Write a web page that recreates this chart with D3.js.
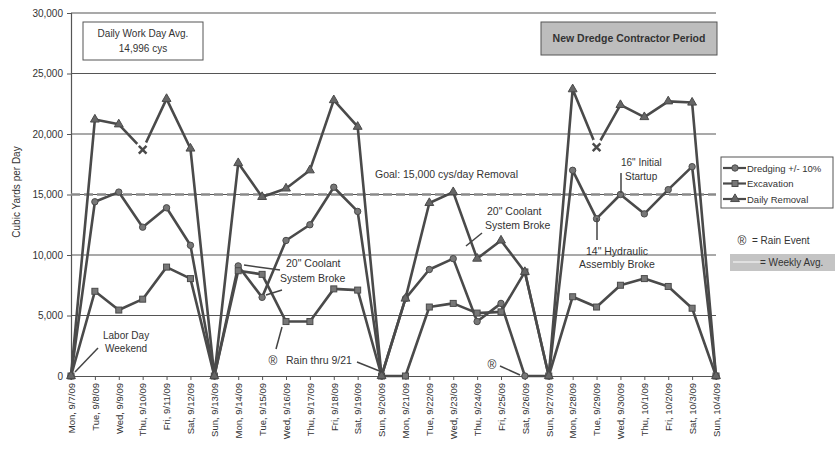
<!DOCTYPE html>
<html><head><meta charset="utf-8">
<script src="https://cdn.jsdelivr.net/npm/d3@7"></script>
<style>
body{margin:0;background:#fff;}
text{font-family:"Liberation Sans",Arial,sans-serif;fill:#333;}
</style></head>
<body>
<svg id="c" width="835" height="452"></svg>
<script>
const dates = ["Mon, 9/7/09","Tue, 9/8/09","Wed, 9/9/09","Thu, 9/10/09","Fri, 9/11/09","Sat, 9/12/09","Sun, 9/13/09","Mon, 9/14/09","Tue, 9/15/09","Wed, 9/16/09","Thu, 9/17/09","Fri, 9/18/09","Sat, 9/19/09","Sun, 9/20/09","Mon, 9/21/09","Tue, 9/22/09","Wed, 9/23/09","Thu, 9/24/09","Fri, 9/25/09","Sat, 9/26/09","Sun, 9/27/09","Mon, 9/28/09","Tue, 9/29/09","Wed, 9/30/09","Thu, 10/1/09","Fri, 10/2/09","Sat, 10/3/09","Sun, 10/4/09"];
const dredging   = [0,14400,15200,12300,13900,10800,0, 9100,6500,11200,12500,15600,13600,0, 6400,8800,9700,4500,6000,0,   0,17000,13000,15000,13400,15400,17300,0];
const excavation = [0, 7000, 5450, 6350, 9000, 8050,0, 8700,8400, 4500, 4500, 7200, 7100,0,    0,5700,6000,5200,5300,8600,0, 6550, 5700, 7500, 8050, 7400, 5600,0];
const daily      = [0,21200,20800,18700,22900,18800,0,17600,14800,15500,17000,22800,20600,0, 6400,14300,15200,9700,11200,8600,0,23700,18900,22400,21400,22700,22600,0];
const crossDays = ["Thu, 9/10/09","Tue, 9/29/09"];
const goal = 15000;
const yTicks = [0,5000,10000,15000,20000,25000,30000];
const seriesNames = ["Dredging +/- 10%","Excavation","Daily Removal"];

const svg = d3.select("#c");
const L=71, R=716, T=13, B=376;
const x = d3.scalePoint().domain(dates).range([L,R]);
const y = d3.scaleLinear().domain([0,30000]).range([B,T]);
const ink = "#4a4a4a";

// gridlines
svg.append("g").selectAll("line").data(yTicks.filter(d=>d>0)).join("line")
  .attr("x1",L).attr("x2",R).attr("y1",d=>y(d)).attr("y2",d=>y(d))
  .attr("stroke","#555").attr("stroke-width",1.2);

// y axis
const ya = svg.append("g").attr("transform",`translate(${L},0)`)
  .call(d3.axisLeft(y).tickValues(yTicks).tickFormat(d3.format(",")).tickSize(4));
ya.select(".domain").attr("stroke","#555").attr("stroke-width",1.2);
ya.selectAll(".tick line").attr("stroke","#555");
ya.selectAll("text").attr("font-size",10).attr("fill","#333").attr("x",-8);

// x axis
const xa = svg.append("g").attr("transform",`translate(0,${B})`)
  .call(d3.axisBottom(x).tickSize(4));
xa.select(".domain").attr("stroke","#555").attr("stroke-width",1.2);
xa.selectAll(".tick line").attr("stroke","#555");
xa.selectAll("text").attr("font-size",9.5).attr("fill","#333")
  .attr("transform","rotate(-90)").attr("text-anchor","end")
  .attr("x",-7).attr("y",0).attr("dy","0.35em");

// goal / weekly avg dashed line
svg.append("line").attr("x1",L).attr("x2",R).attr("y1",y(goal)).attr("y2",y(goal))
  .attr("stroke","#8a8a8a").attr("stroke-width",2.5).attr("stroke-dasharray","9,4");

// series lines
const line = d3.line().x((d,i)=>x(dates[i])).y(d=>y(d));
const allSeries = [dredging, excavation, daily];
allSeries.forEach(s=>{
  svg.append("path").datum(s).attr("d",line).attr("fill","none")
    .attr("stroke",ink).attr("stroke-width",2.6).attr("stroke-linejoin","round");
});

function marker(g, kind, cx, cy){
  if(kind===0){
    g.append("circle").attr("cx",cx).attr("cy",cy).attr("r",3.2).attr("fill","#777").attr("stroke",ink).attr("stroke-width",1);
  } else if(kind===1){
    g.append("rect").attr("x",cx-3).attr("y",cy-3).attr("width",6).attr("height",6).attr("fill","#777").attr("stroke",ink).attr("stroke-width",1);
  } else if(kind===2){
    g.append("path").attr("d",d3.symbol(d3.symbolTriangle,34)()).attr("transform",`translate(${cx},${cy})`).attr("fill","#666").attr("stroke",ink).attr("stroke-width",1);
  } else {
    g.append("circle").attr("cx",cx).attr("cy",cy).attr("r",8).attr("fill","#fff");
    g.append("path").attr("d",d3.symbol(d3.symbolX,40)()).attr("transform",`translate(${cx},${cy})`).attr("fill","none").attr("stroke",ink).attr("stroke-width",2.5);
  }
}
const mg = svg.append("g");
allSeries.forEach((s,k)=>{
  s.forEach((v,i)=>{
    const kind = (k===2 && crossDays.includes(dates[i])) ? 3 : k;
    marker(mg, kind, x(dates[i]), y(v));
  });
});

// annotations
const ann = svg.append("g");
ann.append("rect").attr("x",83).attr("y",22).attr("width",120).attr("height",38).attr("fill","#fff").attr("stroke","#555").attr("stroke-width",1);
ann.append("text").attr("x",143).attr("y",37).attr("text-anchor","middle").attr("font-size",10).text("Daily Work Day Avg.");
ann.append("text").attr("x",143).attr("y",52).attr("text-anchor","middle").attr("font-size",10).text("14,996 cys");
ann.append("rect").attr("x",541).attr("y",22).attr("width",176).attr("height",33).attr("fill","#bdbdbd").attr("stroke","#555").attr("stroke-width",1);
ann.append("text").attr("x",629).attr("y",42).attr("text-anchor","middle").attr("font-size",10.5).attr("font-weight","bold").attr("fill","#444").text("New Dredge Contractor Period");
ann.append("text").attr("x",375).attr("y",178).attr("font-size",10.5).attr("fill","#555").text("Goal: 15,000 cys/day Removal");
ann.append("text").attr("x",103).attr("y",339).attr("font-size",10).text("Labor Day");
ann.append("text").attr("x",105).attr("y",352).attr("font-size",10).text("Weekend");
ann.append("line").attr("x1",98).attr("y1",348).attr("x2",75).attr("y2",372).attr("stroke","#444").attr("stroke-width",1.5);
ann.append("text").attr("x",286).attr("y",267).attr("font-size",10.5).text("20\" Coolant");
ann.append("text").attr("x",280).attr("y",282).attr("font-size",10.5).text("System Broke");
ann.append("line").attr("x1",280).attr("y1",270).attr("x2",244).attr("y2",265).attr("stroke","#444").attr("stroke-width",1.5);
ann.append("line").attr("x1",282).attr("y1",290).attr("x2",266).attr("y2",295).attr("stroke","#444").attr("stroke-width",1.5);
ann.append("text").attr("x",273).attr("y",365).attr("text-anchor","middle").attr("font-size",12).text("®");
ann.append("text").attr("x",286).attr("y",364).attr("font-size",10.5).text("Rain thru 9/21");
ann.append("line").attr("x1",357).attr("y1",362).attr("x2",382).attr("y2",372).attr("stroke","#444").attr("stroke-width",1.5);
ann.append("line").attr("x1",276).attr("y1",349).attr("x2",282).attr("y2",327).attr("stroke","#444").attr("stroke-width",1.5);
ann.append("text").attr("x",487).attr("y",215).attr("font-size",10.5).text("20\" Coolant");
ann.append("text").attr("x",485).attr("y",229).attr("font-size",10.5).text("System Broke");
ann.append("line").attr("x1",482).attr("y1",233).attr("x2",466).attr("y2",246).attr("stroke","#444").attr("stroke-width",1.5);
ann.append("text").attr("x",492).attr("y",369).attr("text-anchor","middle").attr("font-size",12).text("®");
ann.append("line").attr("x1",500).attr("y1",366).attr("x2",520).attr("y2",375).attr("stroke","#444").attr("stroke-width",1.5);
ann.append("text").attr("x",621).attr("y",166).attr("font-size",10).text("16\" Initial");
ann.append("text").attr("x",625).attr("y",180).attr("font-size",10).text("Startup");
ann.append("line").attr("x1",621).attr("y1",173).attr("x2",621).attr("y2",193).attr("stroke","#444").attr("stroke-width",1.5);
ann.append("text").attr("x",617).attr("y",255).attr("text-anchor","middle").attr("font-size",10.5).text("14\" Hydraulic");
ann.append("text").attr("x",617).attr("y",268).attr("text-anchor","middle").attr("font-size",10.5).text("Assembly Broke");
ann.append("line").attr("x1",597).attr("y1",218).attr("x2",597).attr("y2",240).attr("stroke","#444").attr("stroke-width",1.5);

svg.append("text").attr("transform","translate(20,192) rotate(-90)").attr("text-anchor","middle").attr("font-size",10).text("Cubic Yards per Day");

const lg = svg.append("g");
lg.append("rect").attr("x",721).attr("y",157).attr("width",112).attr("height",51).attr("fill","#fff").attr("stroke","#555").attr("stroke-width",1);
seriesNames.forEach((n,k)=>{
  const yy = 168 + k*15.5;
  lg.append("line").attr("x1",723).attr("x2",746).attr("y1",yy).attr("y2",yy).attr("stroke",ink).attr("stroke-width",2.2);
  marker(lg,k,735,yy);
  lg.append("text").attr("x",747).attr("y",yy+3.5).attr("font-size",9.5).text(n);
});
lg.append("text").attr("x",742).attr("y",245).attr("text-anchor","middle").attr("font-size",12).text("®");
lg.append("text").attr("x",752).attr("y",244).attr("font-size",10).text("= Rain Event");
lg.append("rect").attr("x",730).attr("y",254).attr("width",105).attr("height",17).attr("fill","#c4c4c4");
lg.append("line").attr("x1",733).attr("x2",760).attr("y1",262).attr("y2",262).attr("stroke","#e0e0e0").attr("stroke-width",2);
lg.append("text").attr("x",760).attr("y",266).attr("font-size",10).attr("fill","#444").text("= Weekly Avg.");
</script>
</body></html>
